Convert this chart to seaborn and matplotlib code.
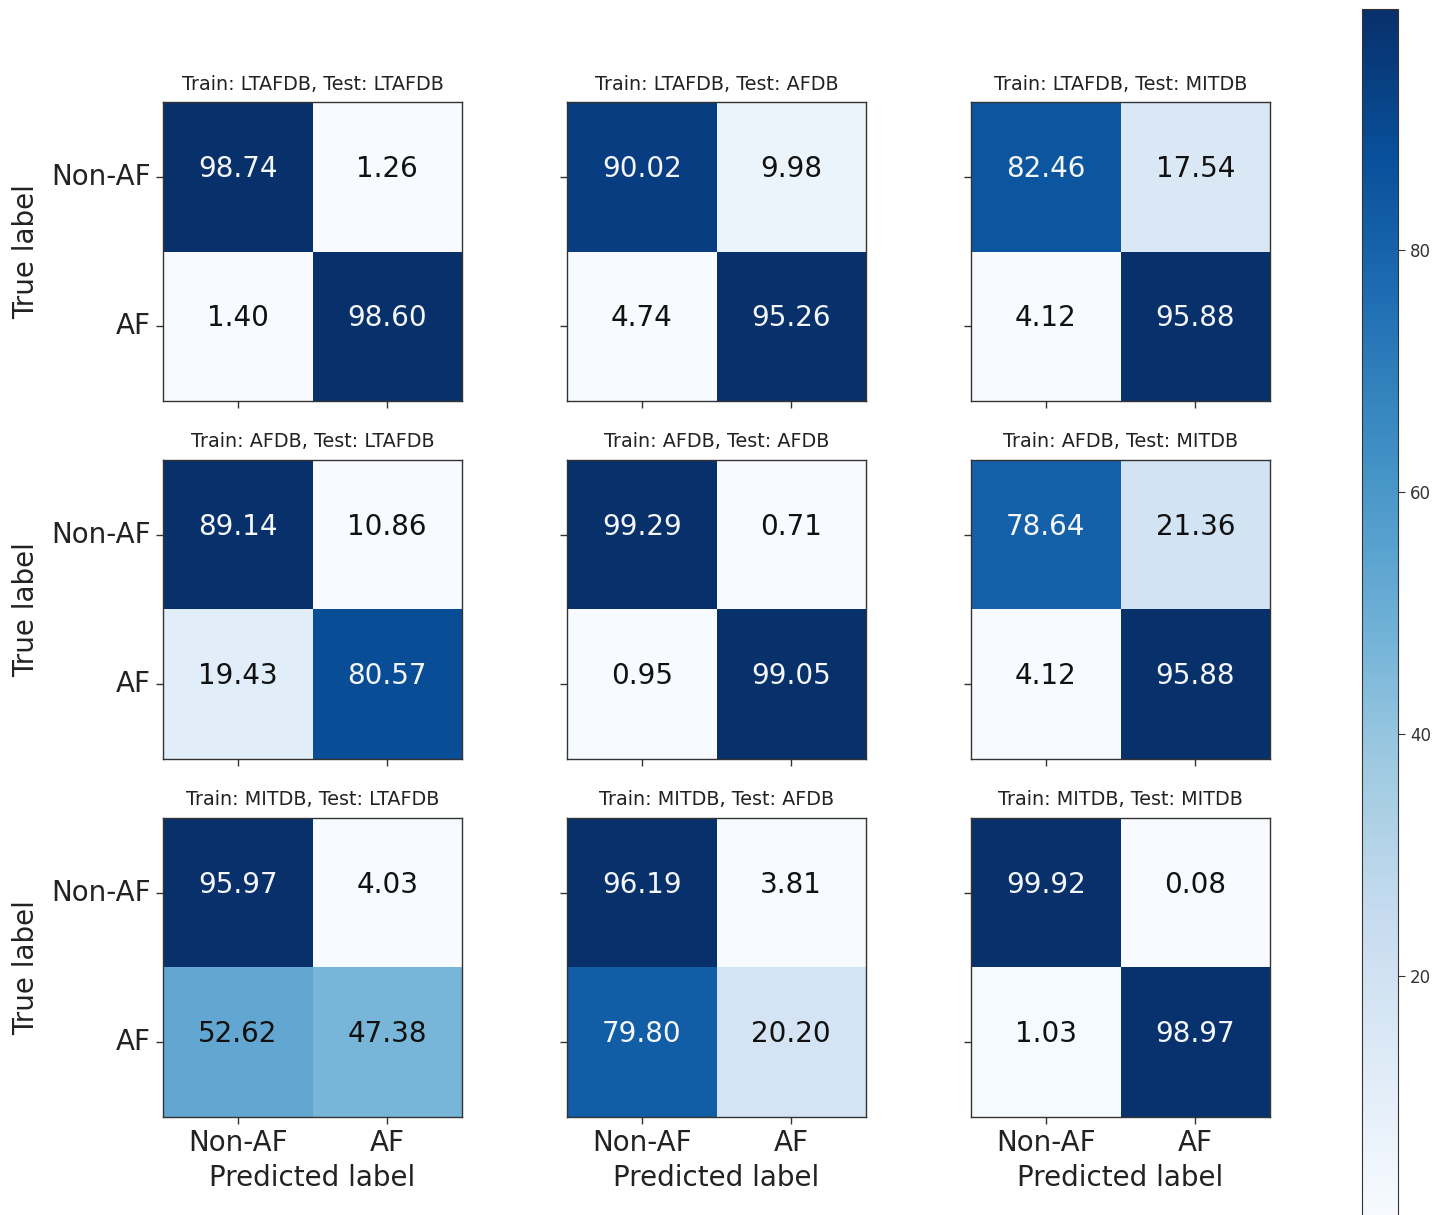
import numpy as np
import pandas as pd
import matplotlib
matplotlib.use("Agg")
import matplotlib.pyplot as plt
import seaborn as sns

labels = ["Non-AF", "AF"]
train_sets = ["LTAFDB", "AFDB", "MITDB"]
test_sets = ["LTAFDB", "AFDB", "MITDB"]

# confusion matrices (percent), rows = true label, cols = predicted label
cm_ltafdb_ltafdb = [[98.74, 1.26], [1.40, 98.60]]
cm_ltafdb_afdb = [[90.02, 9.98], [4.74, 95.26]]
cm_ltafdb_mitdb = [[82.46, 17.54], [4.12, 95.88]]
cm_afdb_ltafdb = [[89.14, 10.86], [19.43, 80.57]]
cm_afdb_afdb = [[99.29, 0.71], [0.95, 99.05]]
cm_afdb_mitdb = [[78.64, 21.36], [4.12, 95.88]]
cm_mitdb_ltafdb = [[95.97, 4.03], [52.62, 47.38]]
cm_mitdb_afdb = [[96.19, 3.81], [79.80, 20.20]]
cm_mitdb_mitdb = [[99.92, 0.08], [1.03, 98.97]]

matrices = [
    [cm_ltafdb_ltafdb, cm_ltafdb_afdb, cm_ltafdb_mitdb],
    [cm_afdb_ltafdb, cm_afdb_afdb, cm_afdb_mitdb],
    [cm_mitdb_ltafdb, cm_mitdb_afdb, cm_mitdb_mitdb],
]
cbar_ticks = [20, 40, 60, 80]

W, H = 1450, 1215
fig = plt.figure(figsize=(W / 100, H / 100), dpi=100)

col_left = [163, 567, 971]
row_top = [102, 460, 818]
size = 299

last_mesh = None
for r in range(3):
    for c in range(3):
        left = col_left[c] / W
        bottom = 1 - (row_top[r] + size) / H
        ax = fig.add_axes([left, bottom, size / W, size / H])
        df = pd.DataFrame(matrices[r][c], index=labels, columns=labels)
        sns.heatmap(df, ax=ax, cmap="Blues", cbar=False,
                    annot=True, fmt=".2f",
                    annot_kws={"fontsize": 20, "va": "baseline"},
                    linewidths=0)
        last_mesh = ax.collections[0]
        vals = np.array(matrices[r][c]).ravel()
        lo, hi = vals.min(), vals.max()
        for t, v in zip(ax.texts, vals):
            t.set_color("#f4f6fa" if (v - lo) / (hi - lo) > 0.6 else "#111111")
            t.set_verticalalignment("baseline")
        for sp in ax.spines.values():
            sp.set_visible(True)
            sp.set_color("#333333")
            sp.set_linewidth(1.0)
        ax.tick_params(axis="both", which="both", length=5, width=1,
                       color="#333333", left=True, bottom=True)
        ax.set_title(f"Train: {train_sets[r]}, Test: {test_sets[c]}",
                     fontsize=13.8, color="#222222", pad=9)
        if c == 0:
            ax.set_yticklabels(labels, rotation=0, fontsize=20, color="#222222")
            ax.set_ylabel("True label", fontsize=20, color="#222222", labelpad=8)
        else:
            ax.set_yticklabels([])
            ax.set_ylabel("")
        if r == 2:
            ax.set_xticklabels(labels, rotation=0, fontsize=20, color="#222222")
            ax.set_xlabel("Predicted label", fontsize=20, color="#222222", labelpad=5)
        else:
            ax.set_xticklabels([])
            ax.set_xlabel("")

# shared colorbar (from the last matrix's colour scale)
cax = fig.add_axes([1362 / W, 1 - 1217 / H, 36 / W, (1217 - 9) / H])
cb = fig.colorbar(last_mesh, cax=cax, ticks=cbar_ticks)
cb.ax.tick_params(labelsize=12, length=5, colors="#333333")
cb.outline.set_edgecolor("#333333")

fig.savefig("out.png", dpi=100)
